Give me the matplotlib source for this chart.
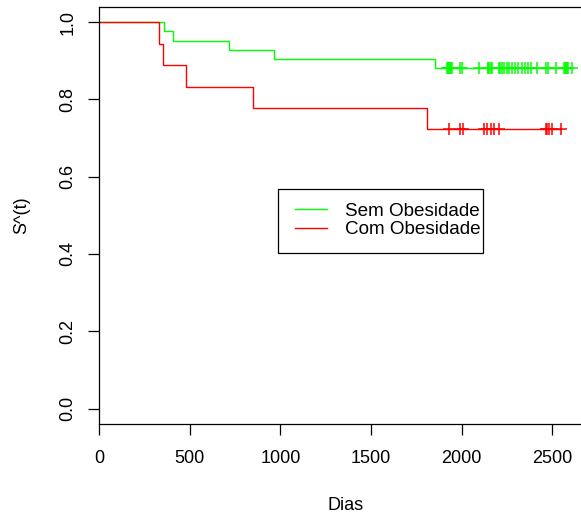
import numpy as np
import matplotlib
matplotlib.use("Agg")
import matplotlib.pyplot as plt
from matplotlib.patches import Rectangle

plt.rcParams['font.family'] = ['Liberation Sans', 'DejaVu Sans']

# ---- data ----
group_labels = ["Sem Obesidade", "Com Obesidade"]
group_colors = ["#00ff00", "#ff0000"]

sem_death_days = [359, 405, 714, 963, 1853]
sem_censor_days = [1921, 1925, 1929, 1934, 1942, 1950, 1989, 2000, 2096,
                   2144, 2148, 2152, 2163, 2171, 2206, 2215, 2224, 2233,
                   2252, 2261, 2276, 2293, 2311, 2335, 2350, 2365, 2381,
                   2414, 2468, 2477, 2519, 2565, 2570, 2575, 2580, 2586, 2611]
com_death_days = [328, 352, 479, 847, 1812]
com_censor_days = [1930, 1994, 2007, 2123, 2142, 2160, 2182, 2206,
                   2464, 2473, 2482, 2501, 2552]

x_ticks = [0, 500, 1000, 1500, 2000, 2500]
y_ticks = [0.0, 0.2, 0.4, 0.6, 0.8, 1.0]
x_label = "Dias"
y_label = "S^(t)"


def kaplan_meier(deaths, censors):
    times = np.array(deaths + censors, dtype=float)
    events = np.array([1] * len(deaths) + [0] * len(censors))
    order = np.argsort(times, kind="stable")
    times, events = times[order], events[order]
    s = 1.0
    step_t, step_s = [0.0], [1.0]
    for t in np.unique(times[events == 1]):
        at_risk = np.sum(times >= t)
        d = np.sum((times == t) & (events == 1))
        s *= (at_risk - d) / at_risk
        step_t.append(t)
        step_s.append(s)
    step_t.append(times.max())
    step_s.append(s)
    step_t = np.array(step_t)
    step_s = np.array(step_s)
    cens_t = times[events == 0]
    idx = np.searchsorted(step_t[:-1], cens_t, side="right") - 1
    cens_s = step_s[idx]
    return step_t, step_s, cens_t, cens_s


groups = [(sem_death_days, sem_censor_days), (com_death_days, com_censor_days)]
max_time = max(max(d + c) for d, c in groups)

W, H = 581, 517
fig = plt.figure(figsize=(W / 100, H / 100), dpi=100)
ax_left_px, ax_right_px, ax_top_px, ax_bot_px = 99.3, 591.1, 6.7, 424.0
ax = fig.add_axes([ax_left_px / W, (H - ax_bot_px) / H,
                   (ax_right_px - ax_left_px) / W, (ax_bot_px - ax_top_px) / H])

handles = []
for (d, c), col, lab in zip(groups, group_colors, group_labels):
    st, ss, ct, cs = kaplan_meier(d, c)
    h, = ax.step(st, ss, where="post", color=col, lw=1.0, label=lab)
    ax.plot(ct, cs, linestyle="none", marker="+", markersize=9.2,
            markeredgewidth=1.1, color=col)
    handles.append(h)

ax.set_xlim(0, max_time * 1.04)
ax.set_ylim(-0.04, 1.04)
ax.set_xticks(x_ticks)
ax.set_xticklabels([str(v) for v in x_ticks])
ax.set_yticks(y_ticks)
ax.set_yticklabels([f"{v:.1f}" for v in y_ticks], rotation=90, va="center")
ax.tick_params(axis="both", direction="out", length=7.9, width=0.9,
               labelsize=13, color="black")
ax.tick_params(axis="x", pad=10.8)
ax.tick_params(axis="y", pad=8.5)
for sp in ax.spines.values():
    sp.set_linewidth(0.9)
    sp.set_color("black")

ax.set_xlabel(x_label, fontsize=13, va="center")
ax.xaxis.set_label_coords(0.5, (ax_bot_px - 505.5) / (ax_bot_px - ax_top_px))
ax.set_ylabel(y_label, fontsize=13, va="center")
ax.yaxis.set_label_coords((22.0 - ax_left_px) / (ax_right_px - ax_left_px), 0.5)


def px_to_axes(px, py):
    return ((px - ax_left_px) / (ax_right_px - ax_left_px),
            (ax_bot_px - py) / (ax_bot_px - ax_top_px))


# legend (frameless, with a hand-placed box like R's legend)
lx, ly = px_to_axes(295.0, 220.4)
leg = ax.legend(handles=handles, loc="center left", bbox_to_anchor=(lx, ly),
                frameon=False, borderpad=0, borderaxespad=0,
                handlelength=1.72, handletextpad=0.92, labelspacing=0.06,
                fontsize=13.6)
x0, y0 = px_to_axes(278.3, 252.7)
x1, y1 = px_to_axes(483.3, 189.5)
ax.add_patch(Rectangle((x0, y0), x1 - x0, y1 - y0, transform=ax.transAxes,
                       fill=False, edgecolor="black", lw=0.9, zorder=5,
                       clip_on=False))

fig.savefig("out.png", dpi=100)
